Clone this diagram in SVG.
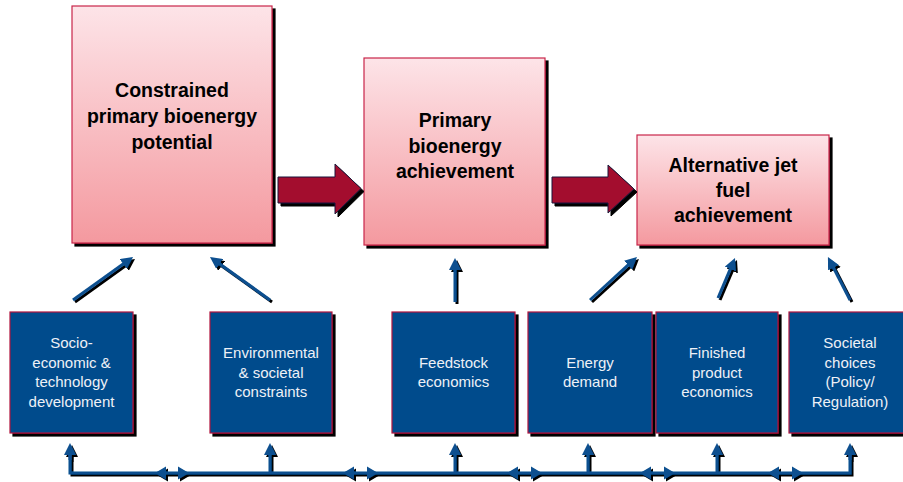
<svg xmlns="http://www.w3.org/2000/svg" width="903" height="482" viewBox="0 0 903 482">
<defs>
<linearGradient id="pink" x1="0" y1="0" x2="0" y2="1">
<stop offset="0" stop-color="#fde4e8"/>
<stop offset="1" stop-color="#f4999f"/>
</linearGradient>
<filter id="sh" filterUnits="userSpaceOnUse" x="0" y="0" width="903" height="482">
<feDropShadow dx="3" dy="3" stdDeviation="0" flood-color="#000" flood-opacity="1"/>
</filter>
<filter id="sh2" filterUnits="userSpaceOnUse" x="0" y="0" width="903" height="482">
<feDropShadow dx="2" dy="2" stdDeviation="0" flood-color="#000" flood-opacity="1"/>
</filter>
<marker id="ah" markerUnits="userSpaceOnUse" viewBox="0 0 12 12" markerWidth="12" markerHeight="12" refX="2" refY="6" orient="auto">
<path d="M0,0 L12,6 L0,12 Z" fill="#0a4f8f"/>
</marker>
<style>
.top rect{fill:url(#pink);stroke:#c8244a;stroke-width:1.2;filter:url(#sh)}
.top text{font-family:"Liberation Sans",Arial,sans-serif;font-weight:bold;font-size:19.5px;fill:#000;text-anchor:middle}
.bot rect{fill:#034b8c;stroke:#b0163e;stroke-width:1.2;filter:url(#sh)}
.bot text{font-family:"Liberation Sans",Arial,sans-serif;font-size:15px;fill:#eef1f7;text-anchor:middle}
.big{fill:#a3092f;stroke:#1b1b3a;stroke-width:1;filter:url(#sh)}
.ln{stroke:#0a4f8f;stroke-width:3;fill:none}
.arr{marker-end:url(#ah)}
.hd{fill:#0a4f8f}
</style>
</defs>
<rect width="903" height="482" fill="#fff"/>

<g id="n1" class="top">
<rect x="72" y="6" width="200" height="237"/>
<text x="172" y="97">Constrained</text>
<text x="172" y="123">primary bioenergy</text>
<text x="172" y="149">potential</text>
</g>
<g id="n2" class="top">
<rect x="364" y="58" width="181" height="187"/>
<text x="455" y="127">Primary</text>
<text x="455" y="152.5">bioenergy</text>
<text x="455" y="178">achievement</text>
</g>
<g id="n3" class="top">
<rect x="637" y="135" width="192" height="110"/>
<text x="733" y="172">Alternative jet</text>
<text x="733" y="197">fuel</text>
<text x="733" y="222">achievement</text>
</g>

<g id="b1" class="bot">
<rect x="10" y="312" width="123" height="121"/>
<text x="71.5" y="348">Socio-</text>
<text x="71.5" y="367.7">economic &amp;</text>
<text x="71.5" y="387.3">technology</text>
<text x="71.5" y="407">development</text>
</g>
<g id="b2" class="bot">
<rect x="210" y="312" width="122" height="121"/>
<text x="271" y="358">Environmental</text>
<text x="271" y="377.5">&amp; societal</text>
<text x="271" y="397">constraints</text>
</g>
<g id="b3" class="bot">
<rect x="392" y="312" width="123" height="121"/>
<text x="453.5" y="368">Feedstock</text>
<text x="453.5" y="387">economics</text>
</g>
<g id="b4" class="bot">
<rect x="528" y="312" width="124" height="121"/>
<text x="590" y="368">Energy</text>
<text x="590" y="387">demand</text>
</g>
<g id="b5" class="bot">
<rect x="656" y="312" width="122" height="121"/>
<text x="717" y="358">Finished</text>
<text x="717" y="377.5">product</text>
<text x="717" y="397">economics</text>
</g>
<g id="b6" class="bot">
<rect x="789" y="312" width="123" height="121"/>
<text x="850" y="348">Societal</text>
<text x="850" y="367.7">choices</text>
<text x="850" y="387.3">(Policy/</text>
<text x="850" y="407">Regulation)</text>
</g>

<g id="connectors">
<path class="big" d="M278,177 H335 V164 L361,188.5 L335,214 V203 H278 Z"/>
<path class="big" d="M552,177 H608 V165 L634,189 L608,213 V203 H552 Z"/>
<g filter="url(#sh2)">
<line class="ln arr" x1="73" y1="300" x2="124.9" y2="262.8"/>
<line class="ln arr" x1="270" y1="300" x2="218.1" y2="262.8"/>
<line class="ln arr" x1="455" y1="302" x2="455" y2="268"/>
<line class="ln arr" x1="590" y1="300" x2="629.6" y2="263.7"/>
<line class="ln arr" x1="718" y1="298" x2="731.1" y2="267.2"/>
<line class="ln arr" x1="850" y1="300" x2="832.5" y2="265.9"/>
<path class="ln" d="M70,453 V473 H850 V453"/>
<line class="ln arr" x1="70" y1="460" x2="70" y2="453"/>
<line class="ln arr" x1="850" y1="460" x2="850" y2="453"/>
<line class="ln arr" x1="270" y1="473" x2="270" y2="453"/>
<line class="ln arr" x1="455" y1="473" x2="455" y2="453"/>
<line class="ln arr" x1="588" y1="473" x2="588" y2="453"/>
<line class="ln arr" x1="717" y1="473" x2="717" y2="453"/>
<path class="hd" d="M155,473 L166,466.5 L166,479.5 Z M189,473 L178,466.5 L178,479.5 Z"/>
<path class="hd" d="M343,473 L354,466.5 L354,479.5 Z M378,473 L367,466.5 L367,479.5 Z"/>
<path class="hd" d="M507,473 L518,466.5 L518,479.5 Z M542,473 L531,466.5 L531,479.5 Z"/>
<path class="hd" d="M640,473 L651,466.5 L651,479.5 Z M675,473 L664,466.5 L664,479.5 Z"/>
<path class="hd" d="M768,473 L779,466.5 L779,479.5 Z M803,473 L792,466.5 L792,479.5 Z"/>
</g>
</g>
</svg>
